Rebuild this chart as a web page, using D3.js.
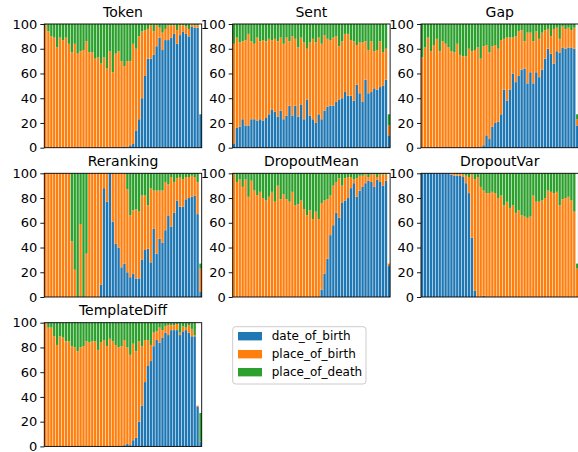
<!DOCTYPE html>
<html>
<head>
<meta charset="utf-8">
<script src="https://cdn.jsdelivr.net/npm/d3@7"></script>
<style>
body { margin: 0; background: #fff; }
svg { display: block; font-family: "DejaVu Sans", sans-serif; }
</style>
</head>
<body>
<div id="chart"></div>
<script>
// series names and tick labels
const keys = ["date_of_birth", "place_of_birth", "place_of_death"];
const yTicks = [0, 20, 40, 60, 80, 100];
const titles = ["Token", "Sent", "Gap", "Reranking", "DropoutMean", "DropoutVar", "TemplateDiff"];

// percentages, 54 bars per panel
const tokenDob = [0,0,0,0,0,0,0,0,0,0,0,0,0,0,0,0,0,0,0,0,0,0,0,0,0,0,0,1,0,2,3,14,23,40,58,72,72,75,82,89,79,87,87,89,92,84,91,94,92,90,98,97,97,27];
const tokenPob = [99,94,90,89,81,89,87,89,84,77,84,76,78,79,86,77,77,72,73,68,73,64,78,61,76,78,70,65,70,68,81,66,67,54,37,24,27,19,17,8,14,9,12,10,7,11,8,5,6,6,2,2,2,0];
const tokenPod = [1,6,10,11,19,11,13,11,16,23,16,24,22,21,14,23,23,28,27,32,27,36,22,39,24,22,30,34,30,30,16,20,10,6,5,4,1,6,1,3,7,4,1,1,1,5,1,1,2,4,0,1,1,0];

const sentDob = [3,16,17,23,18,18,23,23,22,23,22,24,27,31,29,25,30,23,26,34,26,34,25,35,23,39,26,23,20,27,23,30,33,34,34,37,39,40,45,42,42,38,51,44,37,55,44,45,48,47,49,50,55,10];
const sentPob = [81,73,68,63,69,74,63,61,67,63,65,62,61,56,59,61,59,61,63,52,64,54,56,54,62,41,59,65,65,62,61,61,55,53,55,53,43,46,47,50,45,48,32,41,48,31,35,41,30,32,37,27,25,8];
const sentPod = [16,11,15,14,13,8,14,16,11,14,13,14,12,13,12,14,11,16,11,14,10,12,19,11,15,20,15,12,15,11,16,9,12,13,11,10,18,14,8,8,13,14,17,15,15,14,21,14,22,21,14,23,20,9];

const gapDob = [0,0,0,0,0,0,0,0,0,0,0,0,0,0,0,0,0,0,0,0,0,2,10,7,17,20,21,27,47,38,47,60,53,58,63,64,52,61,52,61,57,63,72,80,76,68,78,77,81,80,81,81,80,18];
const gapPob = [73,81,89,78,83,88,78,86,84,81,78,77,84,75,74,74,80,78,79,81,72,80,73,70,65,63,59,60,41,51,42,29,37,36,32,22,41,32,34,33,31,30,23,16,14,28,19,11,17,16,16,14,17,5];
const gapPod = [27,19,11,22,17,12,22,14,16,19,22,23,16,25,26,26,20,22,21,19,28,18,17,23,18,17,20,13,12,11,11,11,10,6,5,14,7,7,14,6,12,7,5,4,10,4,3,12,2,4,3,5,3,4];

const rerankDob = [0,0,0,0,0,0,0,0,0,0,0,0,0,0,0,0,0,0,0,10,88,77,100,61,43,40,24,27,20,16,19,15,15,30,38,39,28,55,35,47,44,54,66,57,68,78,73,73,79,80,81,82,67,4];
const rerankPob = [100,100,100,100,100,100,100,100,100,45,22,0,59,0,35,100,100,100,100,90,12,23,0,39,57,60,76,73,67,50,51,56,54,52,44,35,60,31,51,39,42,39,25,40,25,18,24,22,18,17,17,15,26,19];
const rerankPod = [0,0,0,0,0,0,0,0,0,55,78,100,41,100,65,0,0,0,0,0,0,0,0,0,0,0,0,0,13,34,30,29,31,18,18,26,12,14,14,14,14,7,9,3,7,4,3,5,3,3,2,3,7,4];

const dmeanDob = [0,0,0,0,0,0,0,0,0,0,0,0,0,0,0,0,0,0,0,0,0,0,0,0,0,0,0,0,0,0,6,19,31,50,58,68,64,76,78,80,88,92,81,86,89,92,94,93,89,95,93,90,94,25];
const dmeanPob = [99,93,95,89,95,81,94,86,82,85,80,78,81,85,77,90,79,83,79,77,85,74,75,78,71,66,70,63,69,63,70,59,48,32,32,25,32,14,18,17,9,3,15,12,9,7,3,6,10,2,6,9,5,2];
const dmeanPod = [1,7,5,11,5,19,6,14,18,15,20,22,19,15,23,10,21,17,21,23,15,26,25,22,29,34,30,37,31,37,24,22,21,18,10,7,4,10,4,3,3,5,4,2,2,1,3,1,1,3,1,1,1,0];

const dvarDob = [100,100,100,100,100,100,100,100,100,100,99,98,98,98,97,92,84,48,5,0,0,1,0,0,0,0,0,0,0,0,0,0,0,0,0,0,0,0,0,0,0,0,0,0,0,0,0,0,0,0,0,0,0,0];
const dvarPob = [0,0,0,0,0,0,0,0,0,0,1,2,1,2,2,6,13,51,90,97,89,85,84,84,85,84,80,82,74,77,72,74,68,70,66,65,64,65,82,77,77,78,80,86,85,84,85,74,79,80,81,78,69,23];
const dvarPod = [0,0,0,0,0,0,0,0,0,0,0,0,1,0,1,2,3,1,5,3,11,14,16,16,15,16,20,18,26,23,28,26,32,30,34,35,36,35,18,23,23,22,20,14,15,16,15,26,21,20,19,22,31,4];

const tdiffDob = [0,0,0,0,0,0,0,0,0,0,0,0,0,0,0,0,0,0,0,0,0,0,0,0,0,0,0,1,2,1,5,7,20,33,52,65,69,81,86,84,88,92,90,94,94,94,90,93,94,92,89,89,32,4];
const tdiffPob = [100,96,96,89,82,89,88,85,85,81,80,77,80,81,85,84,85,85,78,84,86,81,87,85,82,80,81,85,78,73,78,70,65,48,34,21,13,11,7,12,6,5,8,4,4,5,2,4,2,6,6,1,1,0];
const tdiffPod = [0,4,4,11,18,11,12,15,15,19,20,23,20,19,15,16,15,15,22,16,14,19,13,15,18,20,19,14,20,26,17,23,15,19,14,14,18,8,7,4,6,3,2,2,2,1,8,3,4,2,5,10,0,23];

const panels = [
  [tokenDob, tokenPob, tokenPod],
  [sentDob, sentPob, sentPod],
  [gapDob, gapPob, gapPod],
  [rerankDob, rerankPob, rerankPod],
  [dmeanDob, dmeanPob, dmeanPod],
  [dvarDob, dvarPob, dvarPod],
  [tdiffDob, tdiffPob, tdiffPod]
];

const color = d3.scaleOrdinal()
  .domain(keys)
  .range(["#1f77b4", "#ff7f0e", "#2ca02c"]);

// subplot grid (pixels)
const colX = [44.3, 232.7, 421];
const rowY = [24, 173.3, 322.7];
const W = 157.4, H = 123.7;

const svg = d3.select("#chart").append("svg")
  .attr("width", 578)
  .attr("height", 452);

const stack = d3.stack().keys(keys);

panels.forEach(function(series, i) {
  const col = i % 3, row = Math.floor(i / 3);
  const g = svg.append("g")
    .attr("transform", "translate(" + colX[col] + "," + rowY[row] + ")");

  const rows = series[0].map(function(d, j) {
    return {idx: j, date_of_birth: d, place_of_birth: series[1][j], place_of_death: series[2][j]};
  });

  const x = d3.scaleBand()
    .domain(rows.map(r => r.idx))
    .range([0, W])
    .paddingInner(0.2)
    .paddingOuter(0);
  const y = d3.scaleLinear().domain([0, 100]).range([H, 0]);

  g.append("g").selectAll("g")
    .data(stack(rows))
    .join("g")
    .attr("fill", d => color(d.key))
    .selectAll("rect")
    .data(d => d)
    .join("rect")
    .attr("x", d => x(d.data.idx))
    .attr("width", x.bandwidth())
    .attr("y", d => y(d[1]))
    .attr("height", d => y(d[0]) - y(d[1]));

  const yAxis = g.append("g")
    .call(d3.axisLeft(y).tickValues(yTicks).tickSize(4).tickPadding(3));
  yAxis.select(".domain").remove();
  yAxis.selectAll("line").attr("stroke", "#000").attr("stroke-width", 0.9);
  yAxis.selectAll("text")
    .attr("fill", "#000")
    .attr("font-family", "DejaVu Sans")
    .attr("font-size", 13);

  // spines
  g.append("rect")
    .attr("width", W)
    .attr("height", H)
    .attr("fill", "none")
    .attr("stroke", "#000")
    .attr("stroke-width", 0.9);

  g.append("text")
    .attr("x", W / 2)
    .attr("y", -7.3)
    .attr("text-anchor", "middle")
    .attr("font-size", 14)
    .text(titles[i]);
});

// legend in the empty eighth cell
const legend = svg.append("g").attr("transform", "translate(232.7,326.7)");
legend.append("rect")
  .attr("width", 133.3)
  .attr("height", 57.3)
  .attr("rx", 3)
  .attr("fill", "#fff")
  .attr("fill-opacity", 0.8)
  .attr("stroke", "#ccc")
  .attr("stroke-width", 1);

const item = legend.selectAll(".item")
  .data(keys)
  .join("g")
  .attr("class", "item")
  .attr("transform", (d, k) => "translate(0," + (9.5 + k * 18) + ")");
item.append("rect")
  .attr("x", 5.3)
  .attr("y", -4.2)
  .attr("width", 24)
  .attr("height", 8.4)
  .attr("fill", d => color(d));
item.append("text")
  .attr("x", 39)
  .attr("dy", "0.35em")
  .attr("font-size", 12)
  .text(d => d);
</script>
</body>
</html>
